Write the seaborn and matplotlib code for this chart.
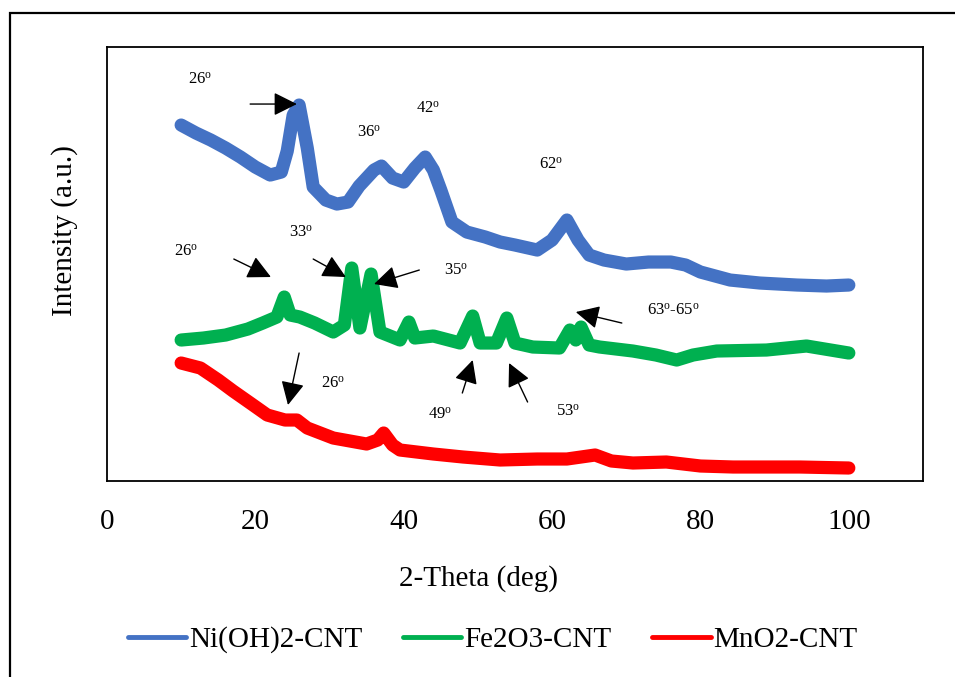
import matplotlib
matplotlib.use("Agg")
import matplotlib.pyplot as plt
import matplotlib.patches as mpatches
import seaborn as sns
import pandas as pd

# ---------------- data (arbitrary intensity units) -------------
ni_x = [10, 12, 14, 16, 18, 20, 22, 23.5, 24.3, 25.1, 25.9, 27, 27.8, 29.5, 31, 32.5, 34, 36, 37,
        38.5, 40, 41.5, 42.9, 44, 45, 46.5, 48.5, 51, 53, 55, 58, 60, 62, 63.5, 65, 67, 70, 73,
        76, 78, 80, 84, 88, 93, 97, 100]
ni_y = [356, 348, 341, 333, 324, 314, 306, 309, 330, 366, 376, 333, 294, 281, 277, 279, 295, 311, 315,
        303, 299, 313, 324, 311, 291, 259, 249, 244, 239, 236, 231, 241, 261, 241, 226, 221, 217, 219,
        219, 216, 209, 201, 198, 196, 195, 196]

fe_x = [10, 13, 16, 19, 21, 22.9, 23.9, 24.7, 26, 28, 30.5, 32, 33.0, 34.1, 35.6, 36.8, 39.5, 40.7,
        41.5, 44, 47.6, 49.3, 50.3, 52.5, 53.9, 55, 57.4, 61, 62.4, 63.2, 63.9, 65, 66.4, 70.9, 74,
        76.8, 79, 82.2, 88.9, 94.3, 100]
fe_y = [141, 143, 146, 152, 158, 164, 184, 166, 164, 158, 149, 156, 213, 153, 207, 149, 141, 159,
        143, 145, 138, 165, 138, 138, 163, 138, 134, 133, 151, 141, 154, 136, 134, 130, 126,
        121, 126, 130, 131, 135, 128]

mn_x = [10, 12.6, 15, 17, 19.5, 21.6, 24, 25.6, 27, 30.5, 35, 36.5, 37.3, 38.5, 39.5, 44, 48, 53,
        58, 62, 65.8, 68, 70.9, 75.4, 80, 84.4, 93.4, 100]
mn_y = [118, 113, 101, 90, 77, 66, 61, 61, 53, 43, 37, 41, 48, 36, 31, 27, 24, 21,
        22, 22, 26, 20, 18, 19, 15, 14, 14, 13]

series_names = ["Ni(OH)2-CNT", "Fe2O3-CNT", "MnO2-CNT"]
series_colors = ["#4472C4", "#00B050", "#FF0000"]
x_ticks = [0, 20, 40, 60, 80, 100]

# peak labels: (text, x, y)  and arrows: (x_from, y_from, x_to, y_to)
label_text = ["26", "36", "42", "62", "33", "26", "35", "63$^{\\mathrm{o}}$-65", "49", "53", "26"]
label_x = [12.6, 35.3, 43.3, 59.8, 26.1, 10.6, 47.0, 76.3, 44.9, 62.1, 30.5]
label_y = [401, 348, 372, 316, 248, 229, 210, 170, 66, 69, 97]
arrow_from = [(19.3, 377), (17.1, 222), (27.8, 222), (42.1, 211), (69.4, 158), (47.9, 88),
              (56.7, 79), (25.9, 128)]
arrow_to = [(25.6, 377), (22.1, 204), (32.2, 204), (36.0, 197), (63.2, 169), (49.3, 121),
            (54.2, 118), (24.4, 76)]

# ---------------- styling ----------------
sns.set_style("white")
plt.rcParams["font.family"] = ["Liberation Serif", "DejaVu Serif"]
plt.rcParams["mathtext.fontset"] = "custom"
plt.rcParams["mathtext.rm"] = "Liberation Serif"
plt.rcParams["mathtext.it"] = "Liberation Serif:italic"
plt.rcParams["text.color"] = "black"
plt.rcParams["axes.labelcolor"] = "black"
plt.rcParams["xtick.color"] = "black"

fig = plt.figure(figsize=(9.55, 6.77), dpi=100)
ax = fig.add_axes([0.112, 0.2895, 0.8545, 0.641])

frames = []
for name, xs, ys in zip(series_names, [ni_x, fe_x, mn_x], [ni_y, fe_y, mn_y]):
    frames.append(pd.DataFrame({"2-Theta": xs, "Intensity": ys, "Sample": name}))
df = pd.concat(frames, ignore_index=True)

sns.lineplot(data=df, x="2-Theta", y="Intensity", hue="Sample", hue_order=series_names,
             palette=series_colors, linewidth=9.5, sort=False, estimator=None, ax=ax,
             legend=False)

ax.set_xlim(0, 110)
ax.set_ylim(0, 434)
ax.set_xticks(x_ticks)
ax.set_xticklabels([str(t) for t in x_ticks])
ax.set_yticks([])
ax.tick_params(axis="x", length=0, pad=20, labelsize=21, labelcolor="black")
for s in ax.spines.values():
    s.set_visible(True)
    s.set_color("black")
    s.set_linewidth(1.3)

ax.set_xlabel("2-Theta (deg)", fontsize=21, color="black")
ax.set_ylabel("Intensity (a.u.)", fontsize=21, color="black")
ax.xaxis.set_label_coords(0.4547, -0.1935)
ax.yaxis.set_label_coords(-0.0355, 0.578)

for t, lx, ly in zip(label_text, label_x, label_y):
    ax.text(lx, ly, t + "$^{\\mathrm{o}}$", fontsize=12, ha="center", va="center",
            color="black")

for (x0, y0), (x1, y1) in zip(arrow_from, arrow_to):
    ax.annotate("", xy=(x1, y1), xytext=(x0, y0),
                arrowprops=dict(arrowstyle="-|>,head_length=0.6,head_width=0.3",
                                mutation_scale=24, color="black",
                                lw=1.0, shrinkA=0, shrinkB=0))

handles = [plt.Line2D([], [], color=c, lw=3.5) for c in series_colors]
fig.legend(handles, series_names, loc="center", bbox_to_anchor=(0.516, 0.055), ncol=3,
           frameon=False, fontsize=21, handlelength=2.0, handletextpad=0.1,
           columnspacing=1.4, labelcolor="black")

# outer chart border (extends beyond right/bottom edges like the reference)
fig.patches.append(mpatches.Rectangle((10 / 955, -0.5), 2.0, 0.9808 + 0.5, fill=False,
                                      lw=1.6, edgecolor="black", transform=fig.transFigure,
                                      figure=fig))

fig.savefig("out.png", dpi=100)
